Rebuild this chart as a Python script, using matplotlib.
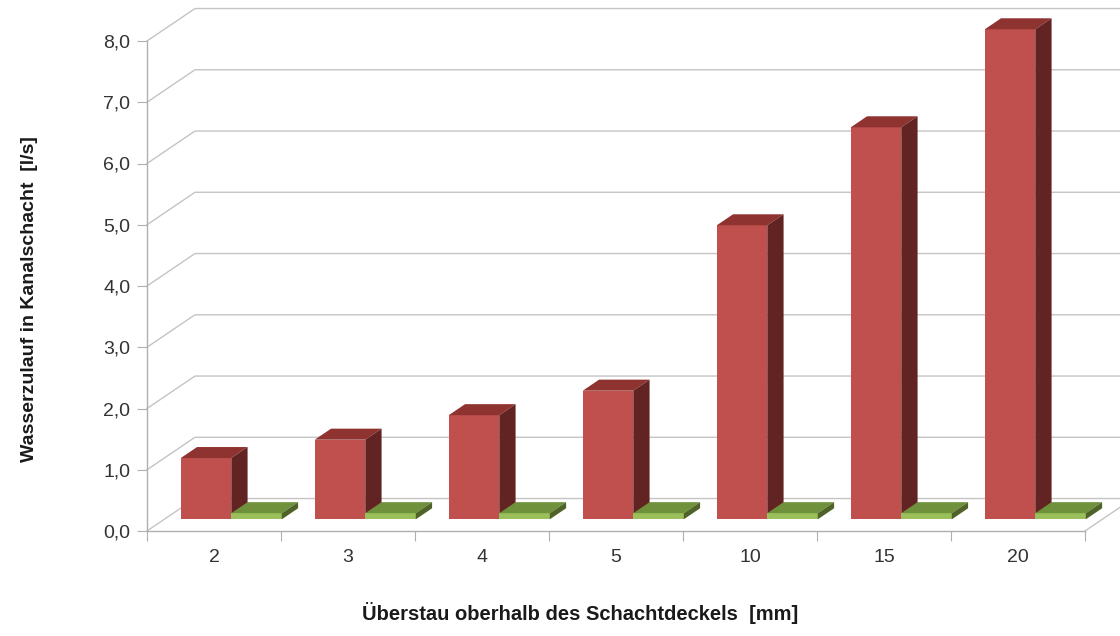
import matplotlib.pyplot as plt
from matplotlib.patches import Polygon

plt.rcParams['font.family'] = ['Liberation Sans', 'DejaVu Sans']

# Daten
kategorien = ['2', '3', '4', '5', '10', '15', '20']
zulauf = [1.0, 1.3, 1.7, 2.1, 4.8, 6.4, 8.0]
zweite_reihe = [0.1, 0.1, 0.1, 0.1, 0.1, 0.1, 0.1]
y_ticks = [0, 1, 2, 3, 4, 5, 6, 7, 8]
y_labels = ['0,0', '1,0', '2,0', '3,0', '4,0', '5,0', '6,0', '7,0', '8,0']

# 3D-Optik (Tiefe in Datenkoordinaten)
DX, DY = 0.358, 0.53
F0, F1 = 0.36, 0.70
GAP = 0.123
W = (1 - 2 * GAP) / 2

GRID = '#c4c4c4'
RED = ('#c0504d', '#8f3330', '#622422')     # vorne, oben, seite
GREEN = ('#9bbf5a', '#6f913b', '#4f6328')

fig = plt.figure(figsize=(11.2, 6.36), dpi=100)
ax = fig.add_axes([147 / 1120, 105 / 636, 938 / 1120, 490 / 636])
ax.set_xlim(0, len(kategorien))
ax.set_ylim(0, 8)

# Rückwand / Boden
n = len(kategorien)
for v in y_ticks:
    ax.plot([0, DX, n + DX], [v, v + DY, v + DY], color=GRID, lw=1, clip_on=False, zorder=1)
ax.plot([n, n + DX], [0, DY], color=GRID, lw=1, clip_on=False, zorder=1)


def saeule(x0, v, cols):
    fx = x0 + F0 * DX
    fy = F0 * DY
    bx = x0 + F1 * DX
    by = F1 * DY
    ax.bar(fx, v, width=W, bottom=fy, align='edge', color=cols[0], lw=0, zorder=3, clip_on=False)
    top = [(fx, v + fy), (fx + W, v + fy), (bx + W, v + by), (bx, v + by)]
    side = [(fx + W, fy), (bx + W, by), (bx + W, v + by), (fx + W, v + fy)]
    ax.add_patch(Polygon(top, closed=True, color=cols[1], lw=0, zorder=3, clip_on=False))
    ax.add_patch(Polygon(side, closed=True, color=cols[2], lw=0, zorder=3, clip_on=False))


for i in range(n):
    saeule(i + GAP, zulauf[i], RED)
    saeule(i + GAP + W, zweite_reihe[i], GREEN)

# Achsen
for s in ['top', 'right']:
    ax.spines[s].set_visible(False)
for s in ['left', 'bottom']:
    ax.spines[s].set_color('#b0b0b0')
    ax.spines[s].set_linewidth(1)
    ax.spines[s].set_zorder(2)

ax.set_yticks(y_ticks)
ax.set_yticklabels(y_labels)
ax.tick_params(axis='y', length=7, color='#b0b0b0', pad=5, labelsize=14, labelcolor='#333333')

ax.set_xticks(range(n + 1))
ax.set_xticklabels([])
ax.set_xticks([i + 0.5 for i in range(n)], minor=True)
ax.set_xticklabels(kategorien, minor=True)
ax.tick_params(axis='x', which='major', length=7, color='#b0b0b0')
ax.tick_params(axis='x', which='minor', length=0, pad=13, labelsize=14, labelcolor='#333333')

fig.text(30 / 1120, 1 - 299 / 636, 'Wasserzulauf in Kanalschacht  [l/s]', rotation=90,
         ha='center', va='center', fontsize=14, fontweight='bold', color='#1a1a1a')
fig.text(580 / 1120, 1 - 613 / 636, 'Überstau oberhalb des Schachtdeckels  [mm]',
         ha='center', va='center', fontsize=14.5, fontweight='bold', color='#1a1a1a')

fig.savefig('out.png', dpi=100)
